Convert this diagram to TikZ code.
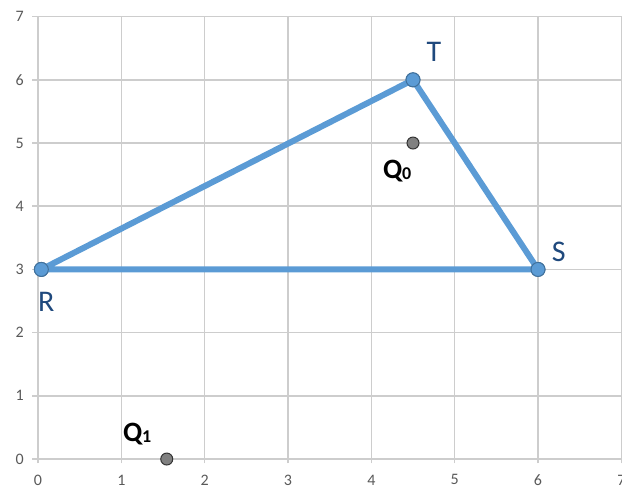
\documentclass[tikz,border=0pt]{standalone}
\usepackage{fontspec}
\setmainfont{Carlito}
\usepackage{xcolor}
\usepackage{tikz}
\usetikzlibrary{positioning, calc}
\definecolor{AzulLinea} {RGB}{91, 155,213}
\definecolor{AzulBorde} {RGB}{65, 113,156}
\definecolor{AzulTexto} {RGB}{31, 73, 125}
\definecolor{GrisRejilla}{RGB}{205,205,205}
\definecolor{GrisTexto} {RGB}{89, 89, 89}
\definecolor{GrisPunto} {RGB}{128,128,128}

\tikzset{
  vertice/.style={circle,draw=AzulBorde,fill=AzulLinea,line width=1pt,minimum size=14pt,inner sep=0pt},
  puntoq/.style={circle,draw=black!80,fill=GrisPunto,line width=1pt,minimum size=12pt,inner sep=0pt},
  lado/.style={draw=AzulLinea,line width=6pt,line cap=round,line join=round},
  etiqueta/.style={text=AzulTexto,font=\fontsize{30}{32}\selectfont,inner sep=0pt},
  etiquetaq/.style={text=black,font=\fontsize{28}{30}\selectfont\bfseries,inner sep=0pt}
}

\begin{document}
\begin{tikzpicture}[x=83.33pt,y=63.2pt,font=\fontsize{16}{18}\selectfont]
      \useasboundingbox (-0.456,-0.474) rectangle (7.008,7.263);
      % rejilla y marcas
      \foreach \k in {0,...,7}{
        \draw[GrisRejilla,line width=1.5pt] (\k,-0.07) -- (\k,7);
        \draw[GrisRejilla,line width=1.5pt] (-0.07,\k) -- (7.1,\k);
        \node[GrisTexto] (ex\k) at (\k,-0.33) {\k};
        \node[GrisTexto,anchor=east] (ey\k) at (-0.13,\k) {\k};
      }
      % triangulo
      \node[vertice] (R) at (0.04,3) {};
      \node[vertice] (T) at (4.5,6) {};
      \node[vertice] (S) at (6,3) {};
      \draw[lado] (R.center) -- (T.center) -- (S.center) -- cycle;
      \node[vertice] at (R) {};
      \node[vertice] at (T) {};
      \node[vertice] at (S) {};
      \node[etiqueta] (lR) at (0.10,2.49) {R};
      \node[etiqueta] (lT) at (4.75,6.45) {T};
      \node[etiqueta] (lS) at (6.25,3.27) {S};
      % puntos Q
      \node[puntoq] (Q0) at (4.5,5) {};
      \node[puntoq] (Q1) at (1.545,0) {};
      \node[etiquetaq] (lQ0) at (4.31,4.56) {Q\raisebox{-1pt}{\fontsize{18}{18}\selectfont 0}};
      \node[etiquetaq] (lQ1) at (1.19,0.39) {Q\raisebox{-1pt}{\fontsize{18}{18}\selectfont 1}};
    \end{tikzpicture}
\end{document}
